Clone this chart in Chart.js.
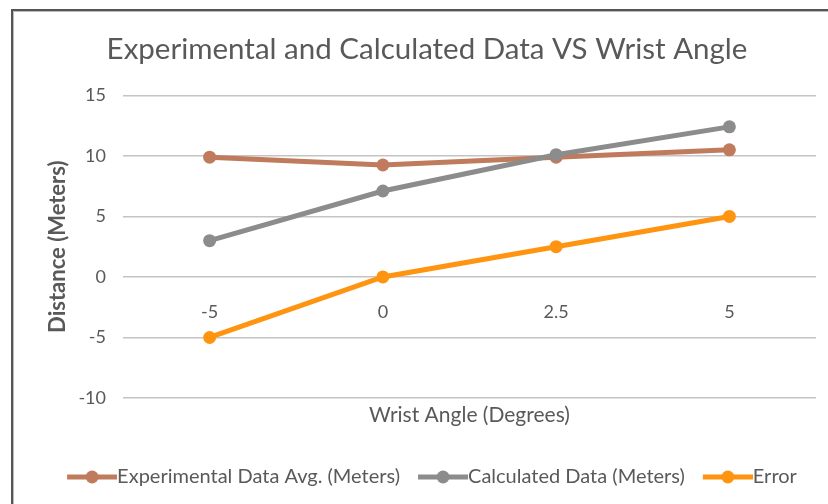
<!DOCTYPE html>
<html>
<head>
<meta charset="utf-8">
<script src="https://cdn.jsdelivr.net/npm/chart.js@4"></script>
<style>
  html, body { margin: 0; padding: 0; background: #fff; }
  #wrap { position: relative; width: 828px; height: 504px; }
  #frame {
    position: absolute; left: 11px; top: 9px; right: 0; bottom: 0;
    border-top: 2px solid #555; border-left: 2px solid #555;
    box-shadow: inset 1px 1px 0 #bbb;
    pointer-events: none;
  }
</style>
</head>
<body>
<div id="wrap">
  <canvas id="chart" width="828" height="504"></canvas>
  <div id="frame"></div>
</div>
<script>
const angles = ['-5', '0', '2.5', '5'];
const experimental = [9.9, 9.25, 9.9, 10.5];
const calculated = [3.0, 7.1, 10.1, 12.4];
const errorValues = [-5, 0, 2.5, 5];
const yTicks = [-10, -5, 0, 5, 10, 15];

const FONT = 'Lato';
const TEXT = '#595959';

// "line with dot" legend marker like Excel's. Chart.js centres the image on the
// legend box, so the left part stays empty (gap to previous item) and the line
// runs right up to the label text.
function legendMarker(color) {
    const c = document.createElement('canvas');
    c.width = 70;
    c.height = 14;
    const g = c.getContext('2d');
    g.strokeStyle = color;
    g.lineWidth = 5;
    g.beginPath();
    g.moveTo(20, 7);
    g.lineTo(70, 7);
    g.stroke();
    g.fillStyle = color;
    g.beginPath();
    g.arc(45, 7, 6.5, 0, Math.PI * 2);
    g.fill();
    return c;
}

function series(label, data, color, order) {
    return {
        label: label,
        data: data,
        borderColor: color,
        backgroundColor: color,
        borderWidth: 5,
        pointRadius: 6.5,
        pointHoverRadius: 6.5,
        pointBorderWidth: 0,
        pointStyle: 'circle',
        tension: 0,
        order: order,
        markerImg: legendMarker(color)
    };
}

new Chart(document.getElementById('chart').getContext('2d'), {
    type: 'line',
    data: {
        labels: angles,
        datasets: [
            series('Experimental Data Avg. (Meters)', experimental, '#c07b5c', 3),
            series('Calculated Data (Meters)', calculated, '#8c8c8c', 2),
            series('Error', errorValues, '#ff9410', 1)
        ]
    },
    options: {
        responsive: false,
        animation: false,
        layout: {
            padding: { left: 38, right: 12, top: 20, bottom: 7 }
        },
        plugins: {
            title: {
                display: true,
                text: 'Experimental and Calculated Data VS Wrist Angle',
                color: TEXT,
                font: { family: FONT, size: 29.5, weight: 'normal' },
                padding: { top: 12, bottom: 28 }
            },
            legend: {
                position: 'bottom',
                labels: {
                    color: TEXT,
                    font: { family: FONT, size: 20 },
                    usePointStyle: true,
                    pointStyleWidth: 50,
                    padding: 8,
                    sort: (a, b) => a.datasetIndex - b.datasetIndex,
                    generateLabels: function (chart) {
                        return chart.data.datasets.map((ds, i) => ({
                            text: ds.label,
                            fillStyle: ds.borderColor,
                            strokeStyle: ds.borderColor,
                            lineWidth: 0,
                            pointStyle: ds.markerImg,
                            fontColor: TEXT,
                            hidden: false,
                            datasetIndex: i
                        }));
                    }
                }
            },
            tooltip: { enabled: false }
        },
        scales: {
            x: {
                type: 'category',
                position: { y: 0 },
                offset: true,
                grid: { display: false },
                border: { display: false },
                ticks: {
                    color: TEXT,
                    font: { family: FONT, size: 18 },
                    padding: 16
                }
            },
            xTitle: {
                type: 'category',
                axis: 'x',
                position: 'bottom',
                labels: angles,
                grid: { display: false },
                border: { display: false },
                ticks: { display: false },
                title: {
                    display: true,
                    text: 'Wrist Angle (Degrees)',
                    color: TEXT,
                    font: { family: FONT, size: 21 },
                    padding: { top: 0, bottom: 31 }
                },
                afterFit: function (scale) {
                    scale.height = 61;
                }
            },
            y: {
                min: -10,
                max: 15,
                afterBuildTicks: function (scale) {
                    scale.ticks = yTicks.map(v => ({ value: v }));
                },
                grid: {
                    color: '#c4c4c4',
                    lineWidth: 1.5,
                    drawTicks: false
                },
                border: { display: false },
                ticks: {
                    color: TEXT,
                    font: { family: FONT, size: 18 },
                    padding: 17
                },
                title: {
                    display: true,
                    text: 'Distance (Meters)',
                    color: TEXT,
                    font: { family: FONT, size: 22, weight: 'bold' },
                    padding: { top: 7, bottom: 0 }
                },
                afterFit: function (scale) {
                    scale.width = 85;
                }
            }
        }
    }
});
</script>
</body>
</html>
